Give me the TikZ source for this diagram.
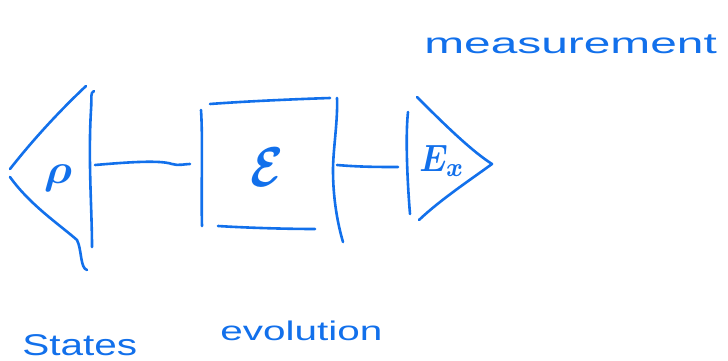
\documentclass[tikz,border=0pt]{standalone}
\usepackage{fontspec}
\usepackage{bm}
\setmainfont{Liberation Sans}
\begin{document}
\begin{tikzpicture}[x=1pt,y=-1pt,
  ink/.style={draw=penblue,line width=2.6pt,line cap=round,line join=round},
  sym/.style={text=penblue,inner sep=0pt},
  hand/.style={text=penblue,inner sep=0pt,anchor=base west}]
\definecolor{penblue}{RGB}{18,112,235}
\useasboundingbox (0,0) rectangle (728,361);
% states (rho)
\draw[ink] (86,86) .. controls (50,120) and (25,150) .. (10,169);
\draw[ink] (10,177) .. controls (30,205) and (60,225) .. (77,240) .. controls (82,250) and (80,268) .. (87,270);
\draw[ink] (94,91) .. controls (90,93) and (92,96) .. (91,110) .. controls (88,160) and (92,210) .. (92,247);
\node[sym,xscale=4.6,yscale=4.2] (rho) at (58,178) {$\bm{\rho}$};
\draw[ink] (95,165) .. controls (130,162) and (160,160) .. (172,164) .. controls (178,166) and (185,164) .. (190,164);
% evolution box
\draw[ink] (201,110) .. controls (203,140) and (201,190) .. (202,226);
\draw[ink] (210,104) .. controls (250,101) and (300,99) .. (330,98);
\draw[ink] (337,98) .. controls (338,120) and (333,150) .. (333,170) .. controls (333,200) and (338,225) .. (343,242);
\draw[ink] (218,226) .. controls (250,228) and (290,229) .. (315,229);
\node[sym,xscale=4.8,yscale=5.6] (E) at (267,167) {$\bm{\mathcal{E}}$};
\draw[ink] (337,165) .. controls (360,167) and (380,167) .. (398,167);
% measurement
\draw[ink] (408,112) .. controls (405,140) and (408,190) .. (410,214);
\draw[ink] (417,97) .. controls (440,120) and (470,150) .. (492,164) .. controls (470,180) and (440,200) .. (419,220);
\node[sym,xscale=3.3,yscale=3.8] (Ex) at (442,161) {$\bm{E_x}$};
% labels
\node[hand,font=\fontsize{29}{29}\selectfont,xscale=1.65] (meas) at (424,54) {measurement};
\node[hand,font=\fontsize{30}{30}\selectfont,xscale=1.35] (states) at (22,355) {States};
\node[hand,font=\fontsize{27}{27}\selectfont,xscale=1.5] (evol) at (220,340) {evolution};
\end{tikzpicture}
\end{document}
